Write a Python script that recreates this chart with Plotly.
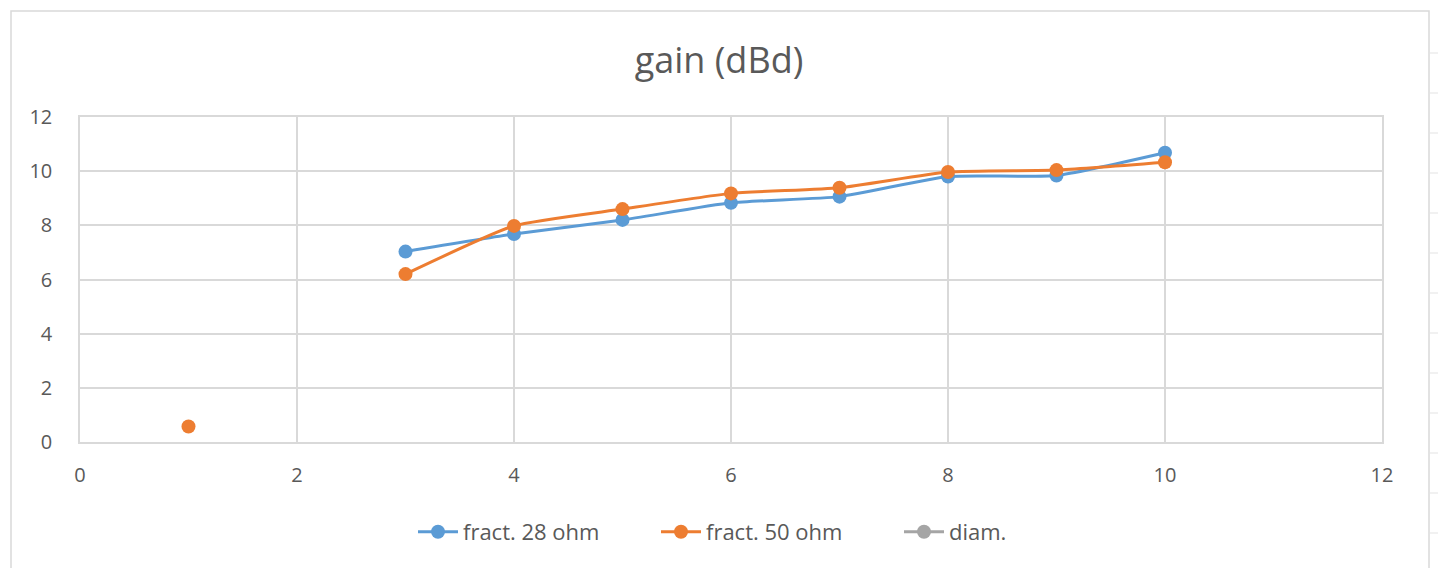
import plotly.graph_objects as go

# Antenna gain per configuration
x_vals = [1, 2, 3, 4, 5, 6, 7, 8, 9, 10]
fract_28 = [None, None, 7.03, 7.68, 8.2, 8.83, 9.06, 9.8, 9.84, 10.68]
fract_50 = [0.57, None, 6.2, 7.98, 8.6, 9.18, 9.39, 9.97, 10.04, 10.33]
diam = [None] * 10

x_ticks = [0, 2, 4, 6, 8, 10, 12]
y_ticks = [0, 2, 4, 6, 8, 10, 12]

W, H = 1438, 568
FONT = "Open Sans"
TXT = "#595959"
GRID = "#d9d9d9"

fig = go.Figure()
series = [
    ("fract. 28 ohm", fract_28, "#5b9bd5"),
    ("fract. 50 ohm", fract_50, "#ed7d31"),
    ("diam.", diam, "#a5a5a5"),
]
for name, ys, col in series:
    fig.add_trace(go.Scatter(
        x=x_vals, y=ys, name=name, mode="lines+markers",
        line=dict(color=col, width=3, shape="spline", smoothing=0.5),
        marker=dict(color=col, size=14),
        connectgaps=False,
    ))

# chart-area frame
fig.add_shape(type="rect", xref="paper", yref="paper",
              x0=(11 - 80) / (1382 - 80), x1=(1429 - 80) / (1382 - 80),
              y0=-(600 - 442) / (442 - 117), y1=(442 - 11) / (442 - 117),
              line=dict(color=GRID, width=1.5), layer="below")
# sheet row lines at the right edge
for yy in range(53, 568, 40):
    fig.add_shape(type="line", xref="paper", yref="paper",
                  x0=(1430 - 80) / 1302, x1=(1438 - 80) / 1302,
                  y0=(442 - yy) / 325, y1=(442 - yy) / 325,
                  line=dict(color="#e3e3e3", width=1))

fig.update_layout(
    width=W, height=H,
    margin=dict(l=80, r=W - 1382, t=117, b=H - 442),
    paper_bgcolor="white", plot_bgcolor="white",
    title=dict(text="gain (dBd)", x=0.5, xref="container", xanchor="center",
               y=1 - 60 / H, yanchor="middle",
               font=dict(family=FONT, size=36, color=TXT)),
    xaxis=dict(range=[0, 12], tickvals=x_ticks, showgrid=True, gridcolor=GRID,
               gridwidth=1.5, zeroline=False, showline=True, linecolor=GRID,
               linewidth=1.5, mirror=True, ticks="", ticklabelstandoff=14,
               tickfont=dict(family=FONT, size=20, color=TXT)),
    yaxis=dict(range=[0, 12], tickvals=y_ticks, showgrid=True, gridcolor=GRID,
               gridwidth=1.5, zeroline=False, showline=True, linecolor=GRID,
               linewidth=1.5, mirror=True, ticks="", ticklabelstandoff=22,
               tickfont=dict(family=FONT, size=20, color=TXT)),
    legend=dict(orientation="h", x=(413 - 80) / 1302, xanchor="left",
                y=-(532 - 442) / 325, yanchor="middle",
                font=dict(family=FONT, size=22, color=TXT),
                itemwidth=40, entrywidth=188, entrywidthmode="pixels",
                bgcolor="rgba(0,0,0,0)"),
    showlegend=True,
)

fig.write_html("out.html")
